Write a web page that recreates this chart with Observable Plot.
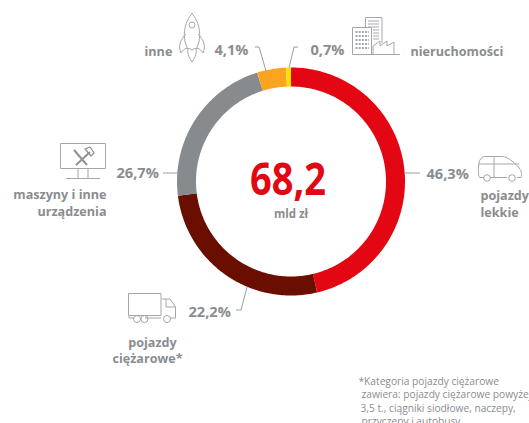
<!DOCTYPE html>
<html><head><meta charset="utf-8">
<style>html,body{margin:0;padding:0;background:#fff;overflow:hidden}svg{display:block}</style>
<script src="https://cdn.jsdelivr.net/npm/d3@7"></script>
<script src="https://cdn.jsdelivr.net/npm/@observablehq/plot@0.6"></script>
</head><body><script>
// Data: arcs as they are drawn in the picture, clockwise from the top
const arcNames = ["czerwony","ciemny","szary","pomarańczowy","żółty"];
const arcShares = [46.3,26.7,22.2,4.1,0.7];
const arcColors = ["#e30613","#6a0e00","#888b8e","#fca31f","#ffe000"];
const shareLabels = ["46,3%","22,2%","26,7%","4,1%","0,7%"];
const total = "68,2";
const unit = "mld zł";
const footnote = ["*Kategoria pojazdy ciężarowe","zawiera: pojazdy ciężarowe powyżej","3,5 t., ciągniki siodłowe, naczepy,","przyczepy i autobusy"];

// Layout
const W=529,H=423,cx=290.5,cy=181,midR=104.5,ringW=19;
const gray="#8a8d8f", iconGray="#a4a7a9", font="'Open Sans',sans-serif";

let cum=0; const ring=[];
arcShares.forEach((v,i)=>{
  const a0=cum/100*360, a1=(cum+v)/100*360; cum+=v;
  const n=Math.max(2,Math.ceil(a1-a0));
  for(let k=0;k<=n;k++){const a=(a0+(a1-a0)*k/n)*Math.PI/180;
    ring.push({arc:arcNames[i],x:cx+midR*Math.sin(a),y:cy-midR*Math.cos(a)});}
});

const lab=(text,x,y,o={})=>Plot.text([text],{text:d=>d,frameAnchor:"top-left",dx:x,dy:y,textAnchor:"start",lineAnchor:"middle",fill:gray,fontWeight:700,fontSize:12.6,...o});

const decor=()=>{
  const g=d3.create("svg:g").attr("fill","none").attr("stroke",iconGray).attr("stroke-width",1);
  const p=(d,o={})=>{const e=g.append("path").attr("d",d);for(const k in o)e.attr(k,o[k]);return e;};
  // leaders
  const L={stroke:"#9a9d9f"};
  p("M255 47H259L266 71",L);
  p("M298 47H294L289 68",L);
  p("M163 173H178",L);
  p("M404 173H420",L);
  p("M236 310H241L247 287",L);
  // rocket
  p("M192 13.5C185 22 183 32 185 42L188 50M192 13.5C199 22 201 32 199 42L196 50");
  p("M186 34C180 40 178 46 181 53C184 48 188 47 192 50C196 47 200 48 203 53C206 46 204 40 198 34");
  p("M188 50C187 54 190 59 192 62C194 59 197 54 196 50");
  g.append("circle").attr("cx",192).attr("cy",25).attr("r",3);
  // building
  p("M352.5 54.5V27.5H371.5V54.5M365.5 27.5V17.5H382V43M352.5 54.5H400M373 54.5V46L380 41V46L387 41V46L394 42V54.5");
  p("M368 21H379M368 24H379M368 27H379M373 30H379M373 33H379M373 36H379M373 39H379");
  p("M355.5 32H369M355.5 36H369M355.5 40H369M355.5 44H369M355.5 48H369",{"stroke-dasharray":"2 1.2","stroke-width":2.2});
  // monitor
  p("M60.5 143.5H105.5V168.5H60.5ZM78 168.5V178M88 168.5V178M66 178.5H100");
  p("M74 150L87 165M90 152L76 165",{"stroke-width":2,stroke:"#8f9294"});
  p("M85 149L90 147L94 153L91 156Z",{"stroke-width":1.2,stroke:"#8f9294"});
  // car
  p("M484 177.5H480C478 177.5 478.5 172 478.5 166C479 160 481 156.5 486 156.5H502C509 157 516 164 519 168C522 171 522 176 521 177.5H517M490 177.5H507M479 164H519M494 156.5V177");
  g.append("circle").attr("cx",487).attr("cy",178).attr("r",3.3);
  g.append("circle").attr("cx",512).attr("cy",178).attr("r",3.3);
  // truck
  p("M128.5 293.5H161V315.5H128.5ZM162 299H170L175.5 307V318H170M161 318H145M134 318H129V315.5M166 299V307H175");
  g.append("circle").attr("cx",137).attr("cy",319).attr("r",3.5);
  g.append("circle").attr("cx",144.5).attr("cy",319).attr("r",3.5);
  g.append("circle").attr("cx",167).attr("cy",319).attr("r",3.5);
  return g.node();
};

const pct=(i,x,y)=>lab(shareLabels[i],x,y,{fontSize:14.6});
const plot=Plot.plot({
  width:W,height:H,margin:0,
  x:{domain:[0,W],range:[0,W],axis:null},
  y:{domain:[0,H],range:[0,H],axis:null},
  color:{domain:arcNames,range:arcColors},
  style:{fontFamily:font,background:"#fff"},
  marks:[
    Plot.line(ring,{x:"x",y:"y",z:"arc",stroke:"arc",strokeWidth:ringW,strokeLinecap:"butt",strokeLinejoin:"round"}),
    decor,
    Plot.text([total],{text:d=>d,frameAnchor:"top-left",dx:cx-3,dy:cy-1,textAnchor:"middle",lineAnchor:"middle",fill:arcColors[0],fontWeight:700,fontSize:44,fontFamily:"'Open Sans',sans-serif",className:"big"}),
    lab(unit,cx,214,{textAnchor:"middle",fontSize:11.5}),
    pct(3,214,50),pct(4,310,50),pct(2,116,173),pct(0,426,174),pct(1,188,312),
    lab("inne",144,51),
    lab("nieruchomości",410,51),
    lab("maszyny i inne",106,194,{textAnchor:"end"}),
    lab("urządzenia",106,211,{textAnchor:"end"}),
    lab("pojazdy",480,195),
    lab("lekkie",480,212),
    lab("pojazdy",152,342,{textAnchor:"middle"}),
    lab("ciężarowe*",147,358,{textAnchor:"middle"}),
    ...footnote.map((t,i)=>lab(t,[358,361,360,361][i],381+i*13.4,{fontWeight:400,fontSize:10.2}))
  ]
});
document.body.appendChild(plot);
d3.select(plot).selectAll(".big text").attr("textLength",76).attr("lengthAdjust","spacingAndGlyphs");
</script></body></html>
